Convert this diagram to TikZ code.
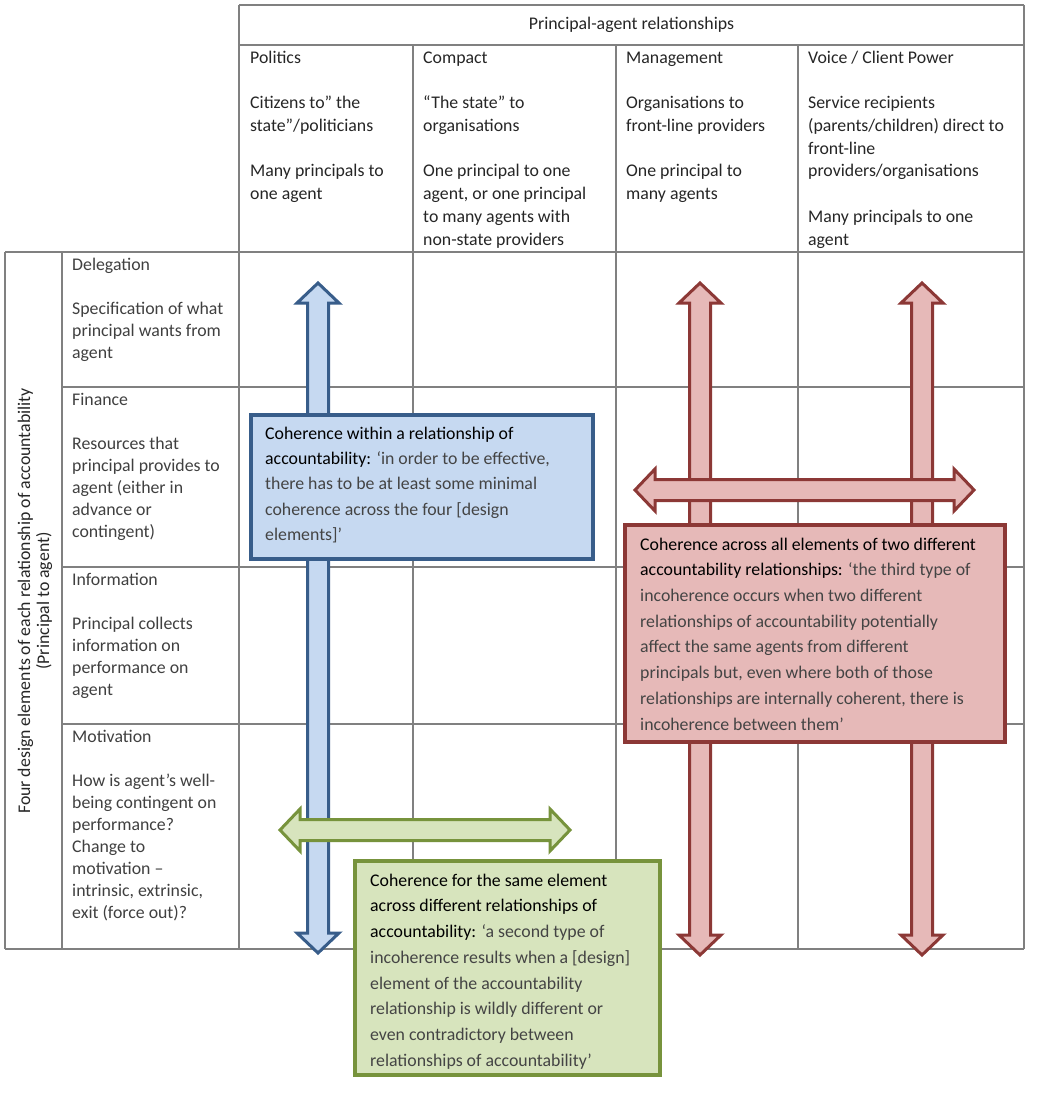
\documentclass[tikz,border=0pt]{standalone}
\usepackage{fontspec}
\setmainfont{Carlito}
\definecolor{gridc}{RGB}{128,128,128}
\definecolor{bfill}{RGB}{198,217,241}
\definecolor{bline}{RGB}{56,93,138}
\definecolor{rfill}{RGB}{230,185,184}
\definecolor{rline}{RGB}{140,56,54}
\definecolor{gfill}{RGB}{215,228,189}
\definecolor{gline}{RGB}{119,147,60}
\definecolor{hdtext}{RGB}{38,38,38}
\definecolor{rowtext}{RGB}{64,64,64}
\definecolor{qtext}{RGB}{68,68,68}
\newcommand{\myVArrow}[4]{%
  \draw[#1] (#2,#3) -- ++(21,20) -- ++(-10.5,0) -- ++(0,#4-40) -- ++(10.5,0)
    -- ++(-21,20) -- ++(-21,-20) -- ++(10.5,0) -- ++(0,40-#4) -- ++(-10.5,0) -- cycle;}
\newcommand{\myHArrow}[4]{%
  \draw[#1] (#2,#3) -- ++(20,-21) -- ++(0,10.5) -- ++(#4-40,0) -- ++(0,-10.5)
    -- ++(20,21) -- ++(-20,21) -- ++(0,-10.5) -- ++(40-#4,0) -- ++(0,10.5) -- cycle;}
\begin{document}
\begin{tikzpicture}[x=1pt,y=-1pt,
  gridline/.style={draw=gridc, line width=1.3pt},
  hdcell/.style={anchor=north west, inner sep=0pt, align=left, text=hdtext,
    font=\fontsize{17.8}{22.7}\selectfont},
  rowcell/.style={anchor=north west, inner sep=0pt, align=left, text=rowtext,
    font=\fontsize{17.8}{22}\selectfont},
  boxtext/.style={anchor=north west, inner sep=0pt, align=left, text=qtext},
  bluearrow/.style={fill=bfill, draw=bline, line width=3pt, line join=miter},
  redarrow/.style={fill=rfill, draw=rline, line width=3pt, line join=miter},
  greenarrow/.style={fill=gfill, draw=gline, line width=3pt, line join=miter},
  bluebox/.style={rectangle, fill=bfill, draw=bline, line width=4pt, inner sep=0pt},
  redbox/.style={rectangle, fill=rfill, draw=rline, line width=4pt, inner sep=0pt},
  greenbox/.style={rectangle, fill=gfill, draw=gline, line width=4pt, inner sep=0pt}]
\useasboundingbox (0,0) rectangle (1037,1099);
\fill[white] (0,0) rectangle (1037,1099);
% ---- grid ----
\draw[gridline] (239,5) -- (1024,5);
\draw[gridline] (239,45) -- (1024,45);
\draw[gridline] (5,252) -- (1024,252);
\draw[gridline] (62,387) -- (1024,387);
\draw[gridline] (62,567) -- (1024,567);
\draw[gridline] (62,724) -- (1024,724);
\draw[gridline] (5,949) -- (1024,949);
\draw[gridline] (5,252) -- (5,949);
\draw[gridline] (62,252) -- (62,949);
\draw[gridline] (239,5) -- (239,949);
\draw[gridline] (413,45) -- (413,949);
\draw[gridline] (616,45) -- (616,949);
\draw[gridline] (798,45) -- (798,949);
\draw[gridline] (1024,5) -- (1024,949);
% ---- header ----
\node[text=hdtext, font=\fontsize{17.8}{22.7}\selectfont, inner sep=0pt] (hdr) at (631.5,25) {Principal-agent relationships};
\node[hdcell] (hpol) at (250,47.4) {\strut Politics\\[22.7pt]Citizens to” the\\state”/politicians\\[22.7pt]Many principals to\\one agent};
\node[hdcell] (hcom) at (423,47.4) {\strut Compact\\[22.7pt]“The state” to\\organisations\\[22.7pt]One principal to one\\agent, or one principal\\to many agents with\\non-state providers};
\node[hdcell] (hman) at (626,47.4) {\strut Management\\[22.7pt]Organisations to\\front-line providers\\[22.7pt]One principal to\\many agents};
\node[hdcell] (hvoi) at (808,47.4) {\strut Voice / Client Power\\[22.7pt]Service recipients\\(parents/children) direct to\\front-line\\providers/organisations\\[22.7pt]Many principals to one\\agent};
% ---- rows ----
\node[rowcell] (rdel) at (72,254.9) {\strut Delegation\\[22pt]Specification of what\\principal wants from\\agent};
\node[rowcell] (rfin) at (72,389.9) {\strut Finance\\[22pt]Resources that\\principal provides to\\agent (either in\\advance or\\contingent)};
\node[rowcell] (rinf) at (72,569.9) {\strut Information\\[22pt]Principal collects\\information on\\performance on\\agent};
\node[rowcell] (rmot) at (72,726.9) {\strut Motivation\\[22pt]How is agent’s well-\\being contingent on\\performance?\\Change to\\motivation –\\intrinsic, extrinsic,\\exit (force out)?};
\node[rotate=90, align=center, text=hdtext, inner sep=0pt, font=\fontsize{17.8}{19}\selectfont] (side) at (35,601) {Four design elements of each relationship of accountability\\(Principal to agent)};
% ---- blue ----
\myVArrow{bluearrow}{318}{283}{670}
\node[bluebox, minimum width=342pt, minimum height=144pt] (bbox) at (422,487) {};
\node[boxtext, font=\fontsize{17.8}{25.3}\selectfont] (btxt) at (265,421.3) {\strut\textcolor{black}{Coherence within a relationship of}\\\textcolor{black}{accountability:} ‘in order to be effective,\\there has to be at least some minimal\\coherence across the four [design\\elements]’};
% ---- red ----
\myVArrow{redarrow}{700}{283}{672}
\myVArrow{redarrow}{922}{283}{672}
\myHArrow{redarrow}{635}{490}{339}
\node[redbox, minimum width=380pt, minimum height=217pt] (rbox) at (815,633.5) {};
\node[boxtext, font=\fontsize{17.8}{25.7}\selectfont] (rtxt) at (640,532) {\strut\textcolor{black}{Coherence across all elements of two different}\\\textcolor{black}{accountability relationships:} ‘the third type of\\incoherence occurs when two different\\relationships of accountability potentially\\affect the same agents from different\\principals but, even where both of those\\relationships are internally coherent, there is\\incoherence between them’};
% ---- green ----
\myHArrow{greenarrow}{280}{830}{290}
\node[greenbox, minimum width=305pt, minimum height=214pt] (gbox) at (507.5,968) {};
\node[boxtext, font=\fontsize{17.8}{25.7}\selectfont] (gtxt) at (370,868) {\strut\textcolor{black}{Coherence for the same element}\\\textcolor{black}{across different relationships of}\\\textcolor{black}{accountability:} ‘a second type of\\incoherence results when a [design]\\element of the accountability\\relationship is wildly different or\\even contradictory between\\relationships of accountability’};
\end{tikzpicture}
\end{document}
